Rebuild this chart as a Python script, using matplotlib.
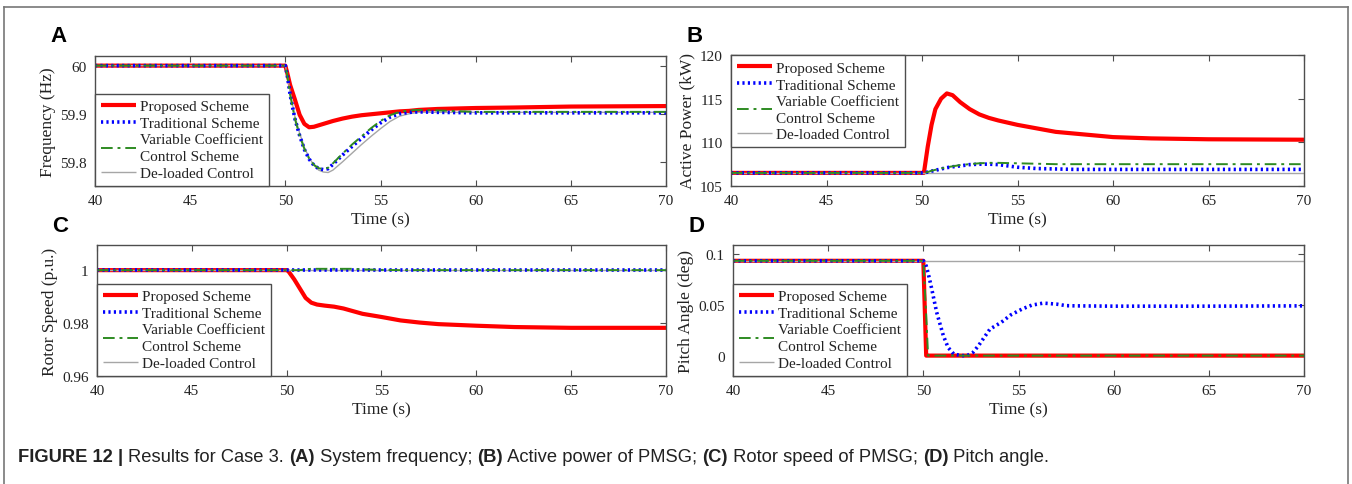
import numpy as np
import matplotlib
matplotlib.use("Agg")
import matplotlib.pyplot as plt
from matplotlib.lines import Line2D
from matplotlib import font_manager

plt.rcParams['font.family'] = ['Liberation Serif', 'DejaVu Serif']

# ---- data ----
labels = ["Proposed Scheme", "Traditional Scheme",
          "Variable Coefficient\nControl Scheme", "De-loaded Control"]

# (A) frequency (Hz)
t_a = [40, 50, 50.1, 50.25, 50.5, 50.75, 51.0, 51.25, 51.5, 51.75, 52.0, 52.25, 52.5,
       53.0, 53.5, 54.0, 54.5, 55.0, 55.5, 56.0, 56.5, 57.0, 58.0, 60.0, 62.0, 65.0, 70.0]
freq_prop = [60, 60, 59.985, 59.96, 59.93, 59.898, 59.879, 59.872, 59.873, 59.876, 59.879, 59.882, 59.885,
             59.89, 59.894, 59.897, 59.899, 59.901, 59.903, 59.905, 59.906, 59.908, 59.91, 59.912, 59.913, 59.915, 59.916]
freq_trad = [60, 60, 59.98, 59.94, 59.89, 59.855, 59.826, 59.806, 59.793, 59.786, 59.784, 59.786, 59.795,
             59.814, 59.832, 59.849, 59.866, 59.881, 59.893, 59.9, 59.903, 59.904, 59.903, 59.902, 59.902, 59.902, 59.902]
freq_var = [60, 60, 59.98, 59.94, 59.89, 59.855, 59.827, 59.807, 59.794, 59.787, 59.785, 59.788, 59.797,
            59.817, 59.836, 59.853, 59.87, 59.885, 59.897, 59.904, 59.907, 59.908, 59.907, 59.904, 59.904, 59.904, 59.904]
freq_del = [60, 60, 59.982, 59.945, 59.895, 59.86, 59.83, 59.809, 59.793, 59.783, 59.779, 59.778, 59.783,
            59.8, 59.818, 59.836, 59.853, 59.869, 59.884, 59.895, 59.9, 59.903, 59.903, 59.903, 59.903, 59.903, 59.903]

# (B) active power (kW)
t_b = [40, 50, 50.1, 50.3, 50.5, 50.7, 51.0, 51.3, 51.6, 52.0, 52.5, 53.0, 53.5, 54.0,
       55.0, 56.0, 57.0, 58.0, 60.0, 62.0, 65.0, 70.0]
p_prop = [106.5, 106.5, 106.5, 109.5, 112.0, 113.8, 115.0, 115.6, 115.4, 114.6, 113.8, 113.2, 112.8, 112.5,
          112.0, 111.6, 111.2, 111.0, 110.6, 110.45, 110.35, 110.3]
p_trad = [106.5, 106.5, 106.5, 106.6, 106.7, 106.8, 106.95, 107.1, 107.2, 107.3, 107.45, 107.5, 107.5, 107.45,
          107.15, 107.0, 106.95, 106.9, 106.9, 106.9, 106.9, 106.9]
p_var = [106.5, 106.5, 106.5, 106.6, 106.75, 106.85, 107.0, 107.15, 107.25, 107.4, 107.5, 107.6, 107.65, 107.65,
         107.6, 107.55, 107.5, 107.5, 107.5, 107.5, 107.5, 107.5]
p_del = [106.5] * len(t_b)

# (C) rotor speed (p.u.)
t_c = [40, 50, 50.1, 50.4, 50.7, 51.0, 51.3, 51.6, 52.0, 52.5, 53.0, 53.5, 54.0, 55.0,
       56.0, 57.0, 58.0, 60.0, 62.0, 65.0, 70.0]
w_prop = [1.0, 1.0, 0.9995, 0.9965, 0.993, 0.9895, 0.9877, 0.9870, 0.9866, 0.9862, 0.9855, 0.9845, 0.9835, 0.9823,
          0.981, 0.9802, 0.9796, 0.979, 0.9785, 0.9782, 0.9782]
w_trad = [1.0] * len(t_c)
w_var = [1.0, 1.0, 1.0, 1.0, 1.0, 1.0003, 1.0005, 1.0005, 1.0005, 1.0005, 1.0005, 1.0005, 1.0003, 1.0001,
         1.0, 1.0, 1.0, 1.0, 1.0, 1.0, 1.0]
w_del = [1.0] * len(t_c)

# (D) pitch angle (deg)
t_d = [40, 50, 50.15, 50.25, 50.4, 50.7, 51.05, 51.3, 51.6, 52.0, 52.3, 52.6, 52.9, 53.5,
       54.1, 54.6, 55.2, 55.7, 56.3, 57.0, 57.5, 58.0, 60.0, 65.0, 70.0]
pitch_prop = [0.093, 0.093, 0.0] + [0.0] * 22
pitch_trad = [0.093, 0.093, 0.088, 0.081, 0.069, 0.0425, 0.0196, 0.008, 0.0015, 0.0, 0.0, 0.003, 0.0098, 0.026,
              0.0327, 0.040, 0.0458, 0.0495, 0.0515, 0.0505, 0.049, 0.0488, 0.0485, 0.0485, 0.0488]
pitch_var = [0.093, 0.093, 0.04, 0.0] + [0.0] * 21
pitch_del = [0.093] * len(t_d)

caption = [("FIGURE 12 | ", "bold"), ("Results for Case 3. ", "normal"), ("(A)", "bold"),
           (" System frequency; ", "normal"), ("(B)", "bold"), (" Active power of PMSG; ", "normal"),
           ("(C)", "bold"), (" Rotor speed of PMSG; ", "normal"), ("(D)", "bold"), (" Pitch angle.", "normal")]

# ---- figure ----
W, H = 1352, 485
fig = plt.figure(figsize=(W / 100, H / 100), dpi=100)


def px_axes(left, top, right, bottom):
    return fig.add_axes([left / W, 1 - bottom / H, (right - left) / W, (bottom - top) / H])


spine_col = "#4d4d4d"
text_col = "#222222"
styles = [dict(color="red", lw=3.0, ls="-"),
          dict(color="blue", lw=2.6, ls=(0, (0.6, 0.9))),
          dict(color="#2e8b22", lw=1.4, ls=(0, (6, 2.5, 1.5, 2.5))),
          dict(color="#a6a6a6", lw=1.0, ls="-")]

panels = [
    ("A", px_axes(95, 57, 666, 187), t_a, [freq_prop, freq_trad, freq_var, freq_del],
     (59.75, 60.02), [59.8, 59.9, 60], ["59.8", "59.9", "60"], "Frequency (Hz)", "lower left"),
    ("B", px_axes(731, 56, 1304, 187), t_b, [p_prop, p_trad, p_var, p_del],
     (105, 120), [105, 110, 115, 120], ["105", "110", "115", "120"], "Active Power (kW)", "upper left"),
    ("C", px_axes(97, 246, 666, 377), t_c, [w_prop, w_trad, w_var, w_del],
     (0.96, 1.0095), [0.96, 0.98, 1.0], ["0.96", "0.98", "1"], "Rotor Speed (p.u.)", "lower left"),
    ("D", px_axes(733, 246, 1304, 377), t_d, [pitch_prop, pitch_trad, pitch_var, pitch_del],
     (-0.02, 0.1085), [0, 0.05, 0.1], ["0", "0.05", "0.1"], "Pitch Angle (deg)", "lower left"),
]

for letter, ax, t, series, ylim, yt, ytl, ylab, loc in panels:
    # red underneath, the thin/dotted lines on top of it (as in the original)
    order = [0, 3, 1, 2]
    handles = [None] * 4
    for i in order:
        ln, = ax.plot(t, series[i], label=labels[i], **styles[i], solid_capstyle="butt")
        handles[i] = ln
    ax.set_xlim(40, 70)
    ax.set_ylim(*ylim)
    ax.set_xticks([40, 45, 50, 55, 60, 65, 70])
    ax.set_yticks(yt)
    ax.set_yticklabels(ytl)
    ax.tick_params(direction="in", top=True, right=True, length=4, width=0.8,
                   colors=spine_col, labelcolor=text_col, labelsize=11, pad=6)
    for s in ax.spines.values():
        s.set_color(spine_col)
        s.set_linewidth(1.0)
    ax.set_xlabel("Time (s)", fontsize=12.5, color=text_col, labelpad=3)
    ax.set_ylabel(ylab, fontsize=12.5, color=text_col, labelpad=3)
    leg = ax.legend(handles=handles, loc=loc, borderaxespad=0, fancybox=False, fontsize=11,
                    handlelength=2.3, handletextpad=0.25, labelspacing=0.2, borderpad=0.4,
                    framealpha=1, edgecolor=spine_col)
    leg.get_frame().set_linewidth(1.0)
    for txt in leg.get_texts():
        txt.set_color(text_col)
        txt.set_linespacing(1.4)
    x0 = ax.get_position().x0
    y1 = ax.get_position().y1
    fig.text(x0 - 45 / W, y1 + 20 / H, letter, fontsize=16, fontweight="bold",
             family="Liberation Sans", ha="left", va="center")

# outer frame (top, left, right)
frame_col = "#777777"
fig.add_artist(Line2D([4 / W, 4 / W], [0, 1 - 7.5 / H], transform=fig.transFigure, color=frame_col, lw=1.2))
fig.add_artist(Line2D([4 / W, 1348 / W], [1 - 7.5 / H, 1 - 7.5 / H], transform=fig.transFigure, color=frame_col, lw=1.2))
fig.add_artist(Line2D([1348 / W, 1348 / W], [0, 1 - 7.5 / H], transform=fig.transFigure, color=frame_col, lw=1.2))

# caption built piece by piece, sized to span the same width as the original
cap_family = "Liberation Sans"
try:
    font_manager.findfont("Liberation Sans Narrow", fallback_to_default=False)
    cap_family = "Liberation Sans Narrow"
except Exception:
    pass

fig.canvas.draw()
renderer = fig.canvas.get_renderer()


def put_caption(size, keep):
    x = 18
    arts = []
    for text, weight in caption:
        tt = fig.text(x / W, 1 - 458 / H, text, fontsize=size, fontweight=weight,
                      family=cap_family, color=text_col, ha="left", va="center")
        x += tt.get_window_extent(renderer).width
        arts.append(tt)
    if not keep:
        for a in arts:
            a.remove()
    return x - 18


w0 = put_caption(12, keep=False)
put_caption(12 * 1033 / w0, keep=True)

fig.savefig("out.png", dpi=100)
